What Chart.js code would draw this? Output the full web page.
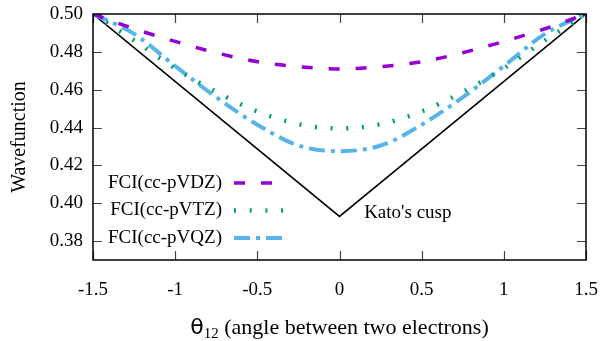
<!DOCTYPE html>
<html><head><meta charset="utf-8">
<script src="https://cdn.jsdelivr.net/npm/chart.js@4/dist/chart.umd.min.js"></script>
<style>html,body{margin:0;padding:0;background:#fff}#wrap{width:602px;height:341px}</style>
</head><body><div id="wrap"><canvas id="c" width="602" height="341"></canvas></div>
<script>
const theta = [-1.5,-1.25,-1,-0.75,-0.5,-0.25,0,0.25,0.5,0.75,1,1.25,1.5];
const vdz = [0.5,0.4922,0.4855,0.4795,0.4748,0.4722,0.471,0.4722,0.4748,0.4795,0.4855,0.4922,0.5];
const vtz = [0.5,0.486,0.4713,0.4588,0.4485,0.4418,0.4395,0.4418,0.4485,0.4588,0.4713,0.486,0.5];
const vqz = [0.5,0.4895,0.4725,0.456,0.4415,0.4305,0.4275,0.4305,0.4415,0.456,0.4725,0.4895,0.5];
const katoX = [-1.5,0,1.5];
const katoY = [0.5,0.393,0.5];
const seriesNames = ['FCI(cc-pVDZ)','FCI(cc-pVTZ)','FCI(cc-pVQZ)'];
const xTicks = [-1.5,-1,-0.5,0,0.5,1,1.5];
const xTickLabels = ['-1.5','-1','-0.5','0','0.5','1','1.5'];
const yTicks = [0.38,0.40,0.42,0.44,0.46,0.48,0.50];
const yTickLabels = ['0.38','0.40','0.42','0.44','0.46','0.48','0.50'];
const cuspLabel = "Kato's cusp";
const cuspLabelPos = [0.15, 0.395];

const FONT = 'Liberation Serif';
const styles = [
  {color:'#9400d3', dash:[11,16], width:3.5},
  {color:'#009e73', dash:[2,13.7], width:4.5},
  {color:'#56b4e9', dash:[16,6,4,6], width:4}
];
const pts = (xs, ys) => xs.map((x,i)=>({x:x, y:ys[i]}));
const seriesData = [vdz, vtz, vqz];

const datasets = seriesData.map((d,i)=>({
  label: seriesNames[i], data: pts(theta,d),
  borderColor: styles[i].color, borderDash: styles[i].dash, borderWidth: styles[i].width,
  borderCapStyle:'butt', pointRadius:0, cubicInterpolationMode:'monotone', fill:false
}));
datasets.push({label:'Kato', data: pts(katoX,katoY), borderColor:'#000', borderWidth:1.6, pointRadius:0, tension:0, fill:false});

const decor = {
  id:'decor',
  afterDatasetsDraw(chart){
    const ctx = chart.ctx, a = chart.chartArea, xs = chart.scales.x, ys = chart.scales.y;
    ctx.save();
    ctx.strokeStyle = '#444'; ctx.lineWidth = 1.2;
    const tl = 9;
    xTicks.forEach(v=>{ const p = Math.round(xs.getPixelForValue(v))+0.5;
      ctx.beginPath(); ctx.moveTo(p,a.bottom); ctx.lineTo(p,a.bottom-tl); ctx.moveTo(p,a.top); ctx.lineTo(p,a.top+tl); ctx.stroke(); });
    yTicks.forEach(v=>{ const p = Math.round(ys.getPixelForValue(v))+0.5;
      ctx.beginPath(); ctx.moveTo(a.left,p); ctx.lineTo(a.left+tl,p); ctx.moveTo(a.right,p); ctx.lineTo(a.right-tl,p); ctx.stroke(); });
    ctx.strokeStyle = '#000'; ctx.lineWidth = 1.5;
    ctx.strokeRect(a.left, a.top, a.right-a.left, a.bottom-a.top);
    ctx.font = '19px "'+FONT+'"'; ctx.fillStyle = '#000'; ctx.textBaseline = 'middle'; ctx.textAlign = 'right';
    const lx = a.left + 129, ly0 = a.top + 169, dy = 27.5;
    seriesNames.forEach((n,i)=>{
      const y = ly0 + i*dy;
      ctx.fillText(n, lx, y);
      ctx.save(); ctx.strokeStyle = styles[i].color; ctx.lineWidth = styles[i].width; ctx.setLineDash(styles[i].dash); ctx.lineCap='butt';
      ctx.beginPath(); ctx.moveTo(lx+12, y); ctx.lineTo(lx+62, y); ctx.stroke(); ctx.restore();
    });
    ctx.textAlign = 'left';
    ctx.fillText(cuspLabel, xs.getPixelForValue(cuspLabelPos[0]), ys.getPixelForValue(cuspLabelPos[1]));
    ctx.save(); ctx.translate(20, (a.top+a.bottom)/2); ctx.rotate(-Math.PI/2);
    ctx.font = '20px "'+FONT+'"'; ctx.textAlign='center'; ctx.fillText('Wavefunction', 0, 0); ctx.restore();
    const f1 = '22px "DejaVu Sans"', f2 = '15px "'+FONT+'"', f3 = '22px "'+FONT+'"';
    const t1='θ', t2='12', t3=' (angle between two electrons)';
    ctx.font=f1; const w1=ctx.measureText(t1).width;
    ctx.font=f2; const w2=ctx.measureText(t2).width;
    ctx.font=f3; const w3=ctx.measureText(t3).width;
    let x0 = (a.left+a.right)/2 - (w1+w2+w3)/2, by = 334;
    ctx.textBaseline='alphabetic'; ctx.textAlign='left';
    ctx.font=f1; ctx.fillText(t1,x0,by); x0+=w1;
    ctx.font=f2; ctx.fillText(t2,x0,by+4); x0+=w2;
    ctx.font=f3; ctx.fillText(t3,x0,by);
    ctx.restore();
  }
};

new Chart(document.getElementById('c'), {
  type:'line',
  data:{datasets},
  options:{
    responsive:false, animation:false, maintainAspectRatio:false,
    layout:{padding:{left:0,right:0,top:0,bottom:0}},
    plugins:{legend:{display:false}, tooltip:{enabled:false}},
    scales:{
      x:{type:'linear', min:-1.5, max:1.5,
        grid:{display:false, drawTicks:false}, border:{display:false},
        afterBuildTicks(s){ s.ticks = xTicks.map(v=>({value:v})); },
        afterFit(s){ s.height = 81; s.paddingRight = 16; s.paddingLeft = 0; },
        ticks:{padding:19, color:'#000', font:{family:FONT, size:19}, maxRotation:0,
          callback:(v)=>{ const i = xTicks.indexOf(v); return i>=0 ? xTickLabels[i] : ''; }}},
      y:{type:'linear', min:0.37, max:0.50,
        grid:{display:false, drawTicks:false}, border:{display:false},
        afterBuildTicks(s){ s.ticks = yTicks.map(v=>({value:v})); },
        afterFit(s){ s.width = 93; s.paddingTop = 14; s.paddingBottom = 0; },
        ticks:{padding:10, color:'#000', font:{family:FONT, size:19},
          callback:(v)=>{ const i = yTicks.findIndex(t=>Math.abs(t-v)<1e-9); return i>=0 ? yTickLabels[i] : ''; }}}
    }
  },
  plugins:[decor]
});
</script></body></html>
